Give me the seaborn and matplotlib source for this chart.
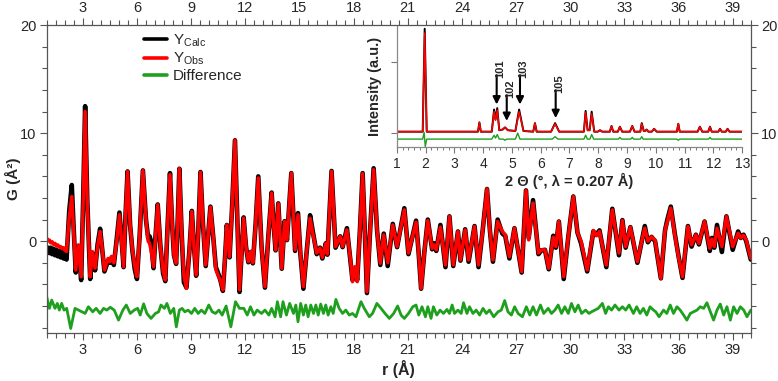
import matplotlib
matplotlib.use('Agg')
import matplotlib.pyplot as plt
from matplotlib.ticker import MultipleLocator, NullFormatter
import seaborn as sns

# PDF fit, r in Angstrom
r_fit = [1.00, 1.07, 1.15, 1.22, 1.30, 1.38, 1.46, 1.54, 1.62, 1.70,
         1.78, 1.86, 1.94, 2.02, 2.10, 2.25, 2.39, 2.50, 2.61, 2.76,
         2.91, 3.02, 3.13, 3.25, 3.41, 3.53, 3.68, 3.82, 3.96, 4.08,
         4.20, 4.40, 4.50, 4.60, 4.72, 4.88, 5.03, 5.15, 5.26, 5.37,
         5.48, 5.62, 5.75, 5.88, 6.00, 6.15, 6.33, 6.50, 6.62, 6.70,
         6.78, 6.92, 7.03, 7.15, 7.30, 7.45, 7.57, 7.70, 7.83, 7.95,
         8.05, 8.17, 8.26, 8.35, 8.47, 8.60, 8.74, 8.90, 9.04, 9.16,
         9.28, 9.40, 9.52, 9.66, 9.81, 9.94, 10.07, 10.22, 10.37, 10.50,
         10.62, 10.76, 10.87, 10.98, 11.13, 11.28, 11.43, 11.55, 11.68, 11.80,
         11.91, 12.04, 12.17, 12.31, 12.42, 12.57, 12.72, 12.90, 13.09, 13.28,
         13.46, 13.57, 13.68, 13.83, 14.02, 14.18, 14.31, 14.55, 14.76, 14.92,
         15.05, 15.22, 15.40, 15.59, 15.72, 15.96, 16.14, 16.27, 16.46, 16.55,
         16.78, 17.00, 17.26, 17.39, 17.63, 17.85, 17.94, 18.07, 18.20, 18.35,
         18.50, 18.62, 18.74, 18.90, 19.11, 19.30, 19.48, 19.67, 19.89, 20.17,
         20.41, 20.81, 21.04, 21.46, 21.60, 21.74, 21.92, 22.11, 22.35, 22.46,
         22.58, 22.81, 23.09, 23.31, 23.52, 23.78, 23.92, 24.18, 24.37, 24.70,
         24.92, 25.15, 25.39, 25.55, 25.72, 25.98, 26.24, 26.40, 26.63, 26.91,
         27.31, 27.55, 27.70, 27.94, 28.24, 28.40, 28.60, 28.81, 29.06, 29.20,
         29.37, 29.64, 29.90, 30.17, 30.40, 30.60, 30.94, 31.28, 31.45, 31.62,
         32.00, 32.33, 32.70, 32.89, 33.07, 33.33, 33.72, 34.00, 34.13, 34.30,
         34.50, 34.70, 35.02, 35.25, 35.38, 35.57, 35.80, 36.00, 36.22, 36.52,
         36.72, 36.96, 37.13, 37.44, 37.73, 37.85, 37.98, 38.13, 38.40, 38.65,
         39.00, 39.30, 39.45, 39.60, 39.75, 40.00]

g_obs = [0.28, 0.05, 0.10, -0.15, -0.05, -0.30, -0.20, -0.45, -0.35, -0.55,
         -0.50, -0.70, -0.60, -0.85, -0.95, 2.2, 4.14, 0.8, -2.67, -0.34,
         -3.3, 3.5, 12.0, 3.5, -3.3, -0.96, -2.5, -0.5, 0.9, -0.8,
         -2.67, -1.6, -1.9, -1.4, -2.0, 0.0, 2.44, 0.0, -2.36, 2.5,
         6.46, 1.5, -0.8, -2.3, -3.3, 0.5, 6.55, 2.0, 0.0, -0.2,
         -0.8, -2.36, 0.5, 3.37, -0.5, -2.8, -3.6, 1.5, 6.16, 1.5,
         -1.3, -2.04, 2.0, 6.71, 1.0, -3.2, -4.37, -1.0, 2.75, -0.5,
         -3.13, 1.0, 6.37, 1.5, -2.2, 0.5, 3.15, 0.5, -2.6, -3.2,
         -3.6, -4.52, -1.8, 1.5, -1.43, 3.5, 9.34, 2.5, -4.5, -1.0,
         2.13, -0.5, -1.89, -0.96, -2.0, 1.5, 5.85, -0.5, -4.21, 0.5,
         4.46, 1.5, -0.81, 3.46, -2.51, 1.82, 0.12, 6.3, -0.8, 2.44,
         -1.0, -4.2, -1.0, 2.13, 0.9, -1.1, -0.65, -1.5, -0.22, -1.2,
         6.46, -0.5, 0.43, -0.5, 1.05, -2.04, -3.75, -2.36, -3.75, 1.0,
         6.25, 1.0, -4.68, 0.5, 6.62, 1.0, -2.04, 0.58, -2.0, 1.5,
         -0.5, 2.9, -1.1, 1.75, -1.0, -4.37, -1.0, 1.91, -0.65, -0.34,
         -0.8, 1.3, -2.2, 2.28, -2.2, 0.9, -1.74, 1.05, -1.74, 1.36,
         -2.2, 1.0, 4.83, 1.0, -1.74, 1.82, 0.9, 0.6, -1.43, 1.2,
         -2.82, 4.7, 0.12, 3.53, -1.1, -0.8, -0.8, -2.51, 0.37, -0.5,
         1.82, -3.29, 0.5, 4.14, 0.8, 0.0, -2.67, 0.99, 0.5, 0.9,
         -2.2, 2.9, -1.1, 1.91, -0.5, 1.3, -1.89, 0.3, 1.2, 0.0,
         0.4, 0.1, -3.44, 1.0, 1.8, 3.06, 0.5, -1.5, -3.29, 1.36,
         -0.34, 0.58, -0.2, 1.82, -0.65, 0.2, -0.5, 1.2, -0.5, 2.28,
         -0.5, 0.74, 0.3, 0.55, 0.1, -1.58]

g_calc = [-1.0, -0.6, -1.1, -0.6, -1.2, -0.7, -1.3, -0.8, -1.4, -0.9,
          -1.5, -1.0, -1.6, -1.1, -1.7, 2.8, 5.2, 1.0, -2.9, -0.5,
          -3.6, 3.8, 12.5, 3.7, -3.5, -1.1, -2.7, -0.3, 1.15, -0.8,
          -2.8, -1.8, -2.0, -1.5, -2.2, 0.2, 2.65, 0.1, -2.4, 2.5,
          6.46, 1.5, -0.9, -2.6, -3.5, 0.5, 6.55, 2.0, 0.3, 0.45,
          0.0, -2.5, 0.5, 3.4, -0.5, -3.0, -3.7, 1.5, 6.3, 1.5,
          -1.3, -2.1, 2.0, 6.71, 1.0, -3.8, -4.3, -1.0, 2.8, -0.5,
          -3.2, 1.0, 6.4, 1.5, -2.3, 0.5, 3.2, 0.5, -2.4, -3.0,
          -3.6, -4.6, -1.8, 1.5, -1.5, 3.5, 9.34, 2.5, -4.7, -1.0,
          2.2, -0.5, -1.95, -1.0, -2.05, 1.5, 6.0, -0.5, -4.3, 0.5,
          4.5, 1.5, -0.85, 3.5, -2.55, 1.85, 0.1, 6.3, -0.9, 2.6,
          -1.1, -4.4, -1.0, 2.4, 1.1, -1.2, -0.6, -1.6, -0.2, -1.25,
          6.5, -0.6, 0.45, -0.55, 1.2, -2.2, -3.6, -2.7, -3.6, 1.0,
          6.3, 1.0, -4.8, 0.5, 6.75, 1.0, -2.2, 0.7, -2.3, 1.6,
          -0.55, 3.05, -1.2, 1.9, -1.0, -4.4, -1.0, 2.0, -0.75, -0.2,
          -0.9, 1.5, -2.4, 2.3, -2.3, 0.9, -1.8, 1.1, -1.9, 1.4,
          -2.4, 1.0, 4.83, 1.0, -1.9, 2.0, 0.7, 0.5, -1.6, 1.2,
          -2.9, 4.7, 0.3, 3.8, -1.2, -0.85, -0.8, -2.6, 0.5, -0.6,
          1.82, -3.5, 0.5, 4.14, 0.8, -0.2, -2.8, 0.9, 0.6, 1.0,
          -2.4, 3.0, -1.3, 1.95, -0.6, 1.3, -2.0, 0.3, 1.4, -0.1,
          0.4, 0.0, -3.44, 1.0, 2.0, 3.2, 0.6, -1.4, -3.4, 1.4,
          -0.5, 0.6, -0.3, 1.82, -0.9, 0.3, -0.6, 1.5, -1.0, 2.3,
          -0.8, 0.9, 0.3, 0.6, 0.0, -1.7]

# difference curve (already offset in the plot)
r_diff = [1.00, 1.15, 1.28, 1.46, 1.59, 1.70, 1.83, 1.96, 2.11, 2.33,
          2.57, 2.76, 2.94, 3.13, 3.31, 3.55, 3.74, 3.96, 4.15, 4.33,
          4.52, 4.74, 4.98, 5.22, 5.41, 5.63, 5.85, 6.04, 6.18, 6.37,
          6.55, 6.78, 7.02, 7.20, 7.33, 7.52, 7.66, 7.85, 8.04, 8.18,
          8.35, 8.50, 8.65, 8.83, 9.02, 9.20, 9.39, 9.57, 9.76, 9.98,
          10.17, 10.35, 10.54, 10.72, 10.94, 11.20, 11.46, 11.68, 11.92, 12.11,
          12.29, 12.48, 12.66, 12.90, 13.09, 13.31, 13.46, 13.65, 13.78, 13.96,
          14.09, 14.28, 14.46, 14.67, 14.80, 14.92, 15.07, 15.22, 15.35, 15.48,
          15.63, 15.78, 15.91, 16.04, 16.18, 16.33, 16.46, 16.59, 16.74, 16.87,
          17.02, 17.20, 17.39, 17.57, 17.76, 17.94, 18.13, 18.41, 18.59, 18.87,
          19.05, 19.29, 19.52, 19.74, 19.98, 20.22, 20.44, 20.63, 20.81, 21.04,
          21.28, 21.46, 21.61, 21.79, 21.98, 22.11, 22.29, 22.42, 22.61, 22.79,
          22.98, 23.17, 23.31, 23.46, 23.59, 23.78, 23.96, 24.09, 24.28, 24.42,
          24.61, 24.79, 24.98, 25.17, 25.35, 25.53, 25.76, 26.00, 26.18, 26.37,
          26.55, 26.74, 26.92, 27.11, 27.35, 27.57, 27.76, 27.94, 28.13, 28.35,
          28.53, 28.78, 28.96, 29.15, 29.33, 29.52, 29.70, 29.89, 30.07, 30.26,
          30.44, 30.63, 30.85, 31.04, 31.18, 31.37, 31.55, 31.78, 31.96, 32.11,
          32.29, 32.48, 32.70, 32.89, 33.07, 33.26, 33.50, 33.68, 33.87, 34.05,
          34.24, 34.42, 34.61, 34.74, 34.92, 35.17, 35.35, 35.54, 35.72, 35.91,
          36.09, 36.28, 36.46, 36.65, 36.83, 37.02, 37.20, 37.39, 37.57, 37.76,
          37.94, 38.13, 38.31, 38.50, 38.68, 38.87, 39.05, 39.24, 39.42, 39.61,
          39.79, 40.00]

g_diff = [-5.14, -6.22, -5.45, -6.22, -5.76, -6.38, -5.76, -6.38, -6.22, -8.08,
          -6.22, -6.38, -6.54, -6.69, -6.07, -6.54, -6.22, -6.69, -6.22, -6.38,
          -6.12, -6.38, -7.31, -6.38, -5.91, -6.69, -6.38, -6.22, -6.84, -5.80,
          -6.69, -7.15, -6.69, -6.54, -5.91, -6.22, -5.76, -6.69, -6.22, -7.93,
          -6.38, -6.22, -6.54, -6.38, -6.69, -6.22, -6.69, -6.38, -6.69, -5.91,
          -6.54, -6.69, -6.38, -6.84, -6.00, -7.93, -5.60, -6.22, -6.22, -6.84,
          -6.07, -6.84, -6.38, -6.69, -6.38, -6.84, -6.22, -7.00, -5.60, -7.00,
          -5.60, -6.84, -5.76, -6.69, -5.91, -7.46, -5.76, -6.84, -5.91, -7.00,
          -5.91, -6.69, -5.91, -6.84, -5.82, -6.69, -5.91, -6.84, -6.07, -6.69,
          -5.39, -6.22, -6.69, -6.38, -6.84, -6.69, -7.00, -5.60, -6.22, -7.00,
          -6.69, -5.76, -6.22, -6.69, -7.15, -6.69, -6.00, -6.84, -7.15, -6.69,
          -6.07, -5.91, -6.84, -6.07, -7.00, -6.07, -7.15, -6.07, -6.84, -6.38,
          -6.69, -6.32, -6.69, -5.91, -6.69, -6.38, -6.69, -5.70, -6.69, -6.07,
          -6.69, -6.38, -6.84, -6.22, -6.69, -6.38, -7.00, -6.54, -6.38, -5.50,
          -6.54, -6.84, -6.07, -6.69, -7.00, -6.07, -6.84, -6.07, -6.84, -5.91,
          -6.69, -6.22, -6.69, -6.38, -5.91, -6.69, -6.07, -6.69, -5.76, -6.54,
          -5.91, -6.69, -6.38, -6.69, -6.54, -6.38, -6.22, -5.76, -6.69, -6.07,
          -6.38, -5.91, -6.38, -6.07, -6.38, -5.91, -6.69, -6.07, -6.69, -6.22,
          -6.84, -6.07, -6.38, -6.54, -7.00, -6.38, -6.69, -5.91, -6.69, -6.07,
          -6.38, -6.84, -7.31, -6.69, -6.54, -6.38, -6.07, -6.22, -5.70, -6.54,
          -7.31, -6.38, -5.82, -6.84, -6.07, -7.31, -6.07, -6.69, -6.07, -6.38,
          -7.00, -6.38]

# inset: diffraction pattern, 2 theta in degrees
tt = [1.00, 1.90, 1.97, 2.04, 3.82, 3.87, 3.92, 4.30, 4.38, 4.43,
      4.49, 4.56, 4.68, 4.76, 4.86, 5.12, 5.25, 5.40, 5.74, 5.80,
      5.86, 6.36, 6.50, 6.64, 7.50, 7.56, 7.63, 7.70, 7.77, 7.86,
      7.98, 8.06, 8.14, 8.40, 8.46, 8.52, 8.68, 8.75, 8.83, 9.10,
      9.18, 9.26, 9.46, 9.51, 9.58, 9.63, 9.68, 9.74, 9.86, 9.94,
      10.03, 10.73, 10.78, 10.83, 11.45, 11.53, 11.61, 11.82, 11.88, 11.94,
      12.17, 12.23, 12.29, 12.43, 12.49, 12.56, 13.00]
i_obs = [0.02, 0.02, 1.40, 0.02, 0.02, 0.15, 0.02, 0.02, 0.30, 0.18,
         0.32, 0.04, 0.05, 0.08, 0.04, 0.03, 0.30, 0.03, 0.02, 0.14,
         0.02, 0.02, 0.13, 0.02, 0.02, 0.29, 0.04, 0.04, 0.27, 0.02,
         0.02, 0.04, 0.02, 0.02, 0.10, 0.02, 0.02, 0.09, 0.02, 0.02,
         0.10, 0.02, 0.02, 0.13, 0.03, 0.03, 0.05, 0.02, 0.02, 0.06,
         0.02, 0.02, 0.13, 0.02, 0.02, 0.09, 0.02, 0.02, 0.09, 0.02,
         0.02, 0.06, 0.02, 0.02, 0.06, 0.02, 0.02]
i_calc = [0.02, 0.02, 1.46, 0.02, 0.02, 0.15, 0.02, 0.02, 0.33, 0.19,
          0.35, 0.04, 0.05, 0.08, 0.04, 0.03, 0.33, 0.03, 0.02, 0.14,
          0.02, 0.02, 0.14, 0.02, 0.02, 0.31, 0.04, 0.04, 0.30, 0.02,
          0.02, 0.04, 0.02, 0.02, 0.10, 0.02, 0.02, 0.09, 0.02, 0.02,
          0.10, 0.02, 0.02, 0.14, 0.03, 0.03, 0.05, 0.02, 0.02, 0.06,
          0.02, 0.02, 0.13, 0.02, 0.02, 0.09, 0.02, 0.02, 0.09, 0.02,
          0.02, 0.06, 0.02, 0.02, 0.06, 0.02, 0.02]
tt_diff = [1.00, 1.90, 1.95, 1.99, 2.04, 4.30, 4.38, 4.43, 4.49, 4.56,
           4.70, 4.76, 4.82, 5.12, 5.20, 5.28, 6.40, 6.50, 6.60, 7.50,
           7.56, 7.62, 7.71, 7.77, 7.84, 8.70, 8.75, 8.80, 9.13, 9.18,
           9.23, 9.46, 9.51, 9.56, 10.73, 10.78, 10.83, 11.83, 11.88, 11.93,
           13.00]
i_diff = [-0.084, -0.084, 0.01, -0.19, -0.084, -0.084, -0.03, -0.07, -0.02, -0.084,
          -0.084, -0.10, -0.084, -0.084, 0.0, -0.084, -0.084, -0.05, -0.084, -0.084,
          -0.03, -0.084, -0.084, -0.02, -0.084, -0.084, -0.06, -0.084, -0.084, -0.06,
          -0.084, -0.084, -0.05, -0.084, -0.084, -0.10, -0.084, -0.084, -0.06, -0.084,
          -0.084]

# reflections marked in the inset: label, 2theta, arrow tip, arrow tail
hkl_labels = ['101', '102', '103', '105']
hkl_pos = [4.47, 4.82, 5.28, 6.52]
hkl_tip = [0.40, 0.17, 0.40, 0.21]
hkl_tail = [0.81, 0.53, 0.81, 0.60]

sns.set_style('ticks')
plt.rcParams['font.family'] = ['Liberation Sans', 'DejaVu Sans']
plt.rcParams['mathtext.default'] = 'regular'

fig = plt.figure(figsize=(7.78, 3.81), dpi=100)
ax = fig.add_axes([0.060, 0.126, 0.905, 0.808])

line_kw = dict(sort=False, estimator=None, solid_joinstyle='round', solid_capstyle='round')
sns.lineplot(x=r_fit, y=g_calc, ax=ax, color='black', lw=3.3, label=r'Y$_{Calc}$', **line_kw)
sns.lineplot(x=r_fit, y=g_obs, ax=ax, color='#ff0000', lw=2.5, label=r'Y$_{Obs}$', **line_kw)
sns.lineplot(x=r_diff, y=g_diff, ax=ax, color='#1ea01e', lw=2.0, label='Difference', **line_kw)

ax.set_xlim(1, 40)
ax.set_ylim(-8.5, 20)
ax.xaxis.set_major_locator(MultipleLocator(3))
ax.xaxis.set_minor_locator(MultipleLocator(0.5))
ax.yaxis.set_major_locator(MultipleLocator(10))
ax.yaxis.set_minor_locator(MultipleLocator(2))
ax.tick_params(which='both', direction='out', top=True, right=True,
               labeltop=True, labelright=True, labelsize=10.5, color='#555555', pad=2.5)
ax.tick_params(which='major', length=5, width=0.8)
ax.tick_params(which='minor', length=3.5, width=0.8)
for s in ax.spines.values():
    s.set_color('#555555')
    s.set_linewidth(0.9)
ax.set_xlabel('r (Å)', fontsize=11.5, fontweight='bold', labelpad=2)
ax.set_ylabel('G (Å²)', fontsize=11, fontweight='bold')
ax.yaxis.set_label_coords(-0.037, 0.5)

leg = ax.legend(loc='upper left', bbox_to_anchor=(0.138, 0.975), frameon=False,
                fontsize=11, handlelength=1.5, handletextpad=0.4, labelspacing=0.12,
                borderpad=0, borderaxespad=0)
for h in leg.get_lines():
    h.set_linewidth(2.6)

# inset
axi = fig.add_axes([0.510, 0.615, 0.444, 0.317])
axi.patch.set_alpha(0)
sns.lineplot(x=tt, y=i_calc, ax=axi, color='black', lw=1.4, sort=False, estimator=None)
sns.lineplot(x=tt, y=i_obs, ax=axi, color='#ff0000', lw=1.1, sort=False, estimator=None)
sns.lineplot(x=tt_diff, y=i_diff, ax=axi, color='#1ea01e', lw=1.0, sort=False, estimator=None)
axi.set_xlim(1, 13)
axi.set_ylim(-0.19, 1.5)
axi.xaxis.set_major_locator(MultipleLocator(1))
axi.xaxis.set_minor_locator(MultipleLocator(0.2))
axi.set_yticks([0, 1])
axi.yaxis.set_major_formatter(NullFormatter())
axi.spines['top'].set_visible(False)
axi.spines['right'].set_visible(False)
for s in ['left', 'bottom']:
    axi.spines[s].set_color('#888888')
    axi.spines[s].set_linewidth(0.9)
axi.tick_params(which='both', direction='out', labelsize=10, color='#777777')
axi.tick_params(which='major', length=4, width=0.8)
axi.tick_params(which='minor', length=2.5, width=0.7)
axi.set_xlabel('2 Θ (°, λ = 0.207 Å)', fontsize=10.5, fontweight='bold', labelpad=1)
axi.set_ylabel('Intensity (a.u.)', fontsize=10.5, fontweight='bold', labelpad=3)

for lab, x0, tip, tail in zip(hkl_labels, hkl_pos, hkl_tip, hkl_tail):
    axi.annotate('', xy=(x0, tip), xytext=(x0, tail),
                 arrowprops=dict(arrowstyle='-|>', color='black', lw=1.5,
                                 mutation_scale=11, shrinkA=0, shrinkB=0))
    axi.text(x0 + 0.12, tail - 0.04, lab, rotation=90, ha='center', va='bottom',
             fontsize=8, fontweight='bold')

fig.savefig('out.png', dpi=100)
plt.close(fig)
